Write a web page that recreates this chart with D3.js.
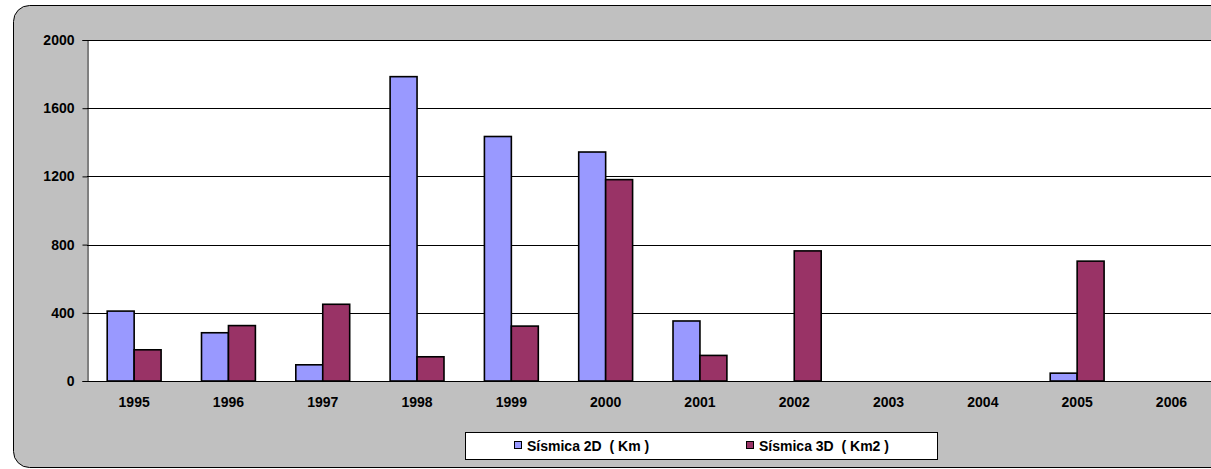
<!DOCTYPE html>
<html>
<head>
<meta charset="utf-8">
<script src="https://cdn.jsdelivr.net/npm/d3@7"></script>
<style>
  body { margin: 0; background: #fff; }
  svg { display: block; font-family: Arial, "Liberation Sans", sans-serif; }
  .tick text { font-size: 14px; font-weight: bold; fill: #000; }
</style>
</head>
<body>
<svg id="chart"></svg>
<script>
const WIDTH = 1211;
const HEIGHT = 469;

// data
const years = ['1995', '1996', '1997', '1998', '1999', '2000', '2001', '2002', '2003', '2004', '2005', '2006'];
const seriesNames = ['Sísmica 2D  ( Km )', 'Sísmica 3D  ( Km2 )'];
const sismica2D = [410, 283, 95, 1785, 1434, 1343, 352, 0, 0, 0, 46, 0];
const sismica3D = [183, 325, 450, 142, 322, 1181, 150, 763, 0, 0, 703, 0];
const yTicks = [0, 400, 800, 1200, 1600, 2000];
const COLORS = ['#9999ff', '#993366'];

const svg = d3.select('#chart')
  .attr('width', WIDTH)
  .attr('height', HEIGHT);

// chart area (rounded grey box, cut at the right edge)
svg.append('rect')
  .attr('x', 13.5).attr('y', 5.5)
  .attr('width', 1240).attr('height', 462)
  .attr('rx', 16).attr('ry', 16)
  .attr('fill', '#c0c0c0')
  .attr('stroke', '#000')
  .attr('stroke-width', 1);

const plot = { left: 87, top: 40, right: 1218.6, bottom: 381 };

// plot area
svg.append('rect')
  .attr('x', plot.left).attr('y', plot.top)
  .attr('width', plot.right - plot.left)
  .attr('height', plot.bottom - plot.top)
  .attr('fill', '#fff');

const x0 = d3.scaleBand()
  .domain(years)
  .range([plot.left, plot.right])
  .paddingInner(1.5 / 3.5)
  .paddingOuter(0.75 / 3.5);

const x1 = d3.scaleBand()
  .domain([0, 1])
  .range([0, x0.bandwidth()]);

const y = d3.scaleLinear()
  .domain([0, 2000])
  .range([plot.bottom, plot.top]);

// gridlines
svg.append('g')
  .selectAll('line')
  .data(yTicks.filter(d => d > 0))
  .enter()
  .append('line')
  .attr('x1', plot.left).attr('x2', plot.right)
  .attr('y1', d => Math.round(y(d)) + 0.5)
  .attr('y2', d => Math.round(y(d)) + 0.5)
  .attr('stroke', '#000')
  .attr('stroke-width', 1);

// bars
const rows = years.map((yr, i) => ({ year: yr, values: [sismica2D[i], sismica3D[i]] }));

const groups = svg.append('g')
  .selectAll('g')
  .data(rows)
  .enter()
  .append('g')
  .attr('transform', d => 'translate(' + x0(d.year) + ',0)');

groups.selectAll('rect')
  .data(d => d.values.map((v, k) => ({ k, v })).filter(d => d.v > 0))
  .enter()
  .append('rect')
  .attr('x', d => x1(d.k))
  .attr('y', d => y(d.v))
  .attr('width', x1.bandwidth())
  .attr('height', d => y(0) - y(d.v))
  .attr('fill', d => COLORS[d.k])
  .attr('stroke', '#000')
  .attr('stroke-width', 1.6);

// axes
const yAxis = svg.append('g')
  .attr('transform', 'translate(' + (plot.left + 0.5) + ',0)')
  .call(d3.axisLeft(y).tickValues(yTicks).tickSize(5).tickPadding(8).tickFormat(d3.format('d')));
yAxis.select('.domain').attr('stroke', '#000');
yAxis.selectAll('.tick line').attr('stroke', '#000');

const xAxis = svg.append('g')
  .attr('transform', 'translate(0,' + (plot.bottom + 0.5) + ')')
  .call(d3.axisBottom(x0).tickSize(0).tickPadding(16));
xAxis.select('.domain').attr('stroke', '#000').attr('d', 'M' + plot.left + ',0H' + plot.right);

// top border of plot area
svg.append('line')
  .attr('x1', plot.left).attr('x2', plot.right)
  .attr('y1', plot.top + 0.5).attr('y2', plot.top + 0.5)
  .attr('stroke', '#000');

// legend
const legend = svg.append('g').attr('transform', 'translate(465.5,432.5)');
legend.append('rect')
  .attr('width', 472).attr('height', 27)
  .attr('fill', '#fff')
  .attr('stroke', '#000');

const legendX = [49, 281];
const items = legend.selectAll('g.item')
  .data(seriesNames)
  .enter()
  .append('g')
  .attr('class', 'item')
  .attr('transform', (d, i) => 'translate(' + legendX[i] + ',0)');

items.append('rect')
  .attr('x', 0).attr('y', 9)
  .attr('width', 7).attr('height', 7)
  .attr('fill', (d, i) => COLORS[i])
  .attr('stroke', '#000');

items.append('text')
  .attr('x', 12.5).attr('y', 18)
  .attr('font-size', 14)
  .attr('font-weight', 'bold')
  .style('white-space', 'pre')
  .text(d => d);
</script>
</body>
</html>
